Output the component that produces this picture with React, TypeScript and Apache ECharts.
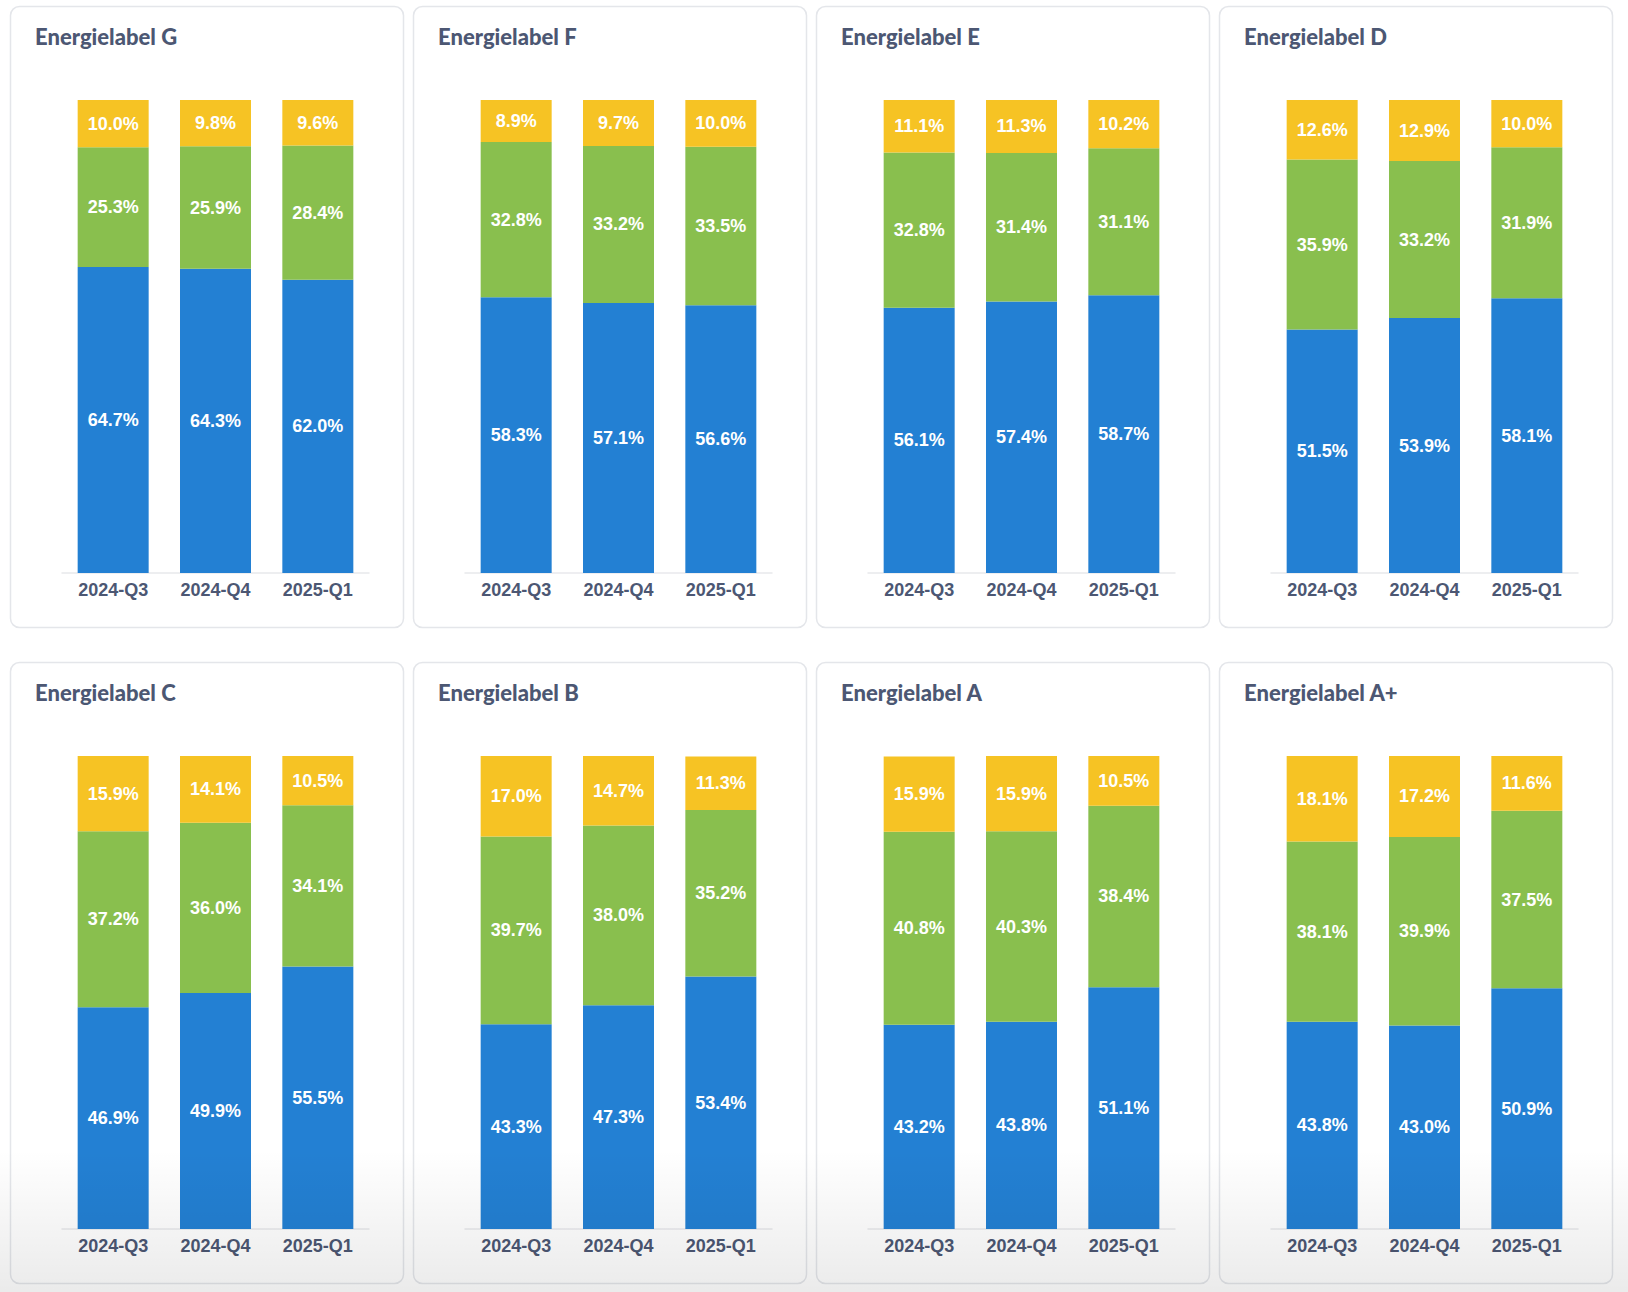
import React, { useEffect, useRef } from "react";
import * as echarts from "echarts";

const categories = ["2024-Q3", "2024-Q4", "2025-Q1"];
const labels = [
  "Energielabel G",
  "Energielabel F",
  "Energielabel E",
  "Energielabel D",
  "Energielabel C",
  "Energielabel B",
  "Energielabel A",
  "Energielabel A+",
];
const blueValues = [
  [64.7, 64.3, 62.0],
  [58.3, 57.1, 56.6],
  [56.1, 57.4, 58.7],
  [51.5, 53.9, 58.1],
  [46.9, 49.9, 55.5],
  [43.3, 47.3, 53.4],
  [43.2, 43.8, 51.1],
  [43.8, 43.0, 50.9],
];
const greenValues = [
  [25.3, 25.9, 28.4],
  [32.8, 33.2, 33.5],
  [32.8, 31.4, 31.1],
  [35.9, 33.2, 31.9],
  [37.2, 36.0, 34.1],
  [39.7, 38.0, 35.2],
  [40.8, 40.3, 38.4],
  [38.1, 39.9, 37.5],
];
const yellowValues = [
  [10.0, 9.8, 9.6],
  [8.9, 9.7, 10.0],
  [11.1, 11.3, 10.2],
  [12.6, 12.9, 10.0],
  [15.9, 14.1, 10.5],
  [17.0, 14.7, 11.3],
  [15.9, 15.9, 10.5],
  [18.1, 17.2, 11.6],
];
const seriesNames = ["Blauw", "Groen", "Geel"];

const COLORS = ["#2380D3", "#89BF4E", "#F6C324"];
const W = 1628;
const H = 1292;

export default function App() {
  const ref = useRef<HTMLDivElement>(null);
  useEffect(() => {
    document.body.style.margin = "0";
    const chart = echarts.init(ref.current!, null, { renderer: "svg" });
    const grids: any[] = [];
    const xAxes: any[] = [];
    const yAxes: any[] = [];
    const series: any[] = [];
    const titles: any[] = [];
    const graphics: any[] = [];
    labels.forEach((name, i) => {
      const c = i % 4;
      const r = Math.floor(i / 4);
      const cx = 10 + c * 403;
      const cy = r === 0 ? 6 : 662;
      graphics.push({
        type: "rect",
        shape: { x: cx + 0.5, y: cy + 0.5, width: 393, height: 621, r: 9 },
        style: { fill: "#ffffff", stroke: "#e4e6ea", lineWidth: 1.5 },
        z: -10,
        silent: true,
      });
      titles.push({
        text: name,
        left: cx + 20,
        top: cy + 14,
        textStyle: {
          fontFamily: "Lato",
          fontWeight: 900,
          fontSize: 22,
          color: "#4C5773",
        },
      });
      grids.push({ left: cx + 52, top: cy + 94, width: 307, height: 473 });
      xAxes.push({
        type: "category",
        gridIndex: i,
        data: categories,
        axisTick: { show: false },
        axisLine: { lineStyle: { color: "#e8e9ec", width: 1.5 } },
        axisLabel: {
          margin: 8,
          fontFamily: "Liberation Sans",
          fontWeight: "bold",
          fontSize: 18,
          color: "#4C5773",
        },
      });
      yAxes.push({
        type: "value",
        gridIndex: i,
        min: 0,
        max: 100,
        show: false,
        splitLine: { show: false },
      });
      [blueValues, greenValues, yellowValues].forEach((vals, s) => {
        series.push({
          type: "bar",
          name: seriesNames[s],
          xAxisIndex: i,
          yAxisIndex: i,
          stack: "total" + i,
          barWidth: 71,
          data: vals[i],
          itemStyle: { color: COLORS[s] },
          label: {
            show: true,
            position: "inside",
            formatter: (p: any) => p.value.toFixed(1) + "%",
            color: "#ffffff",
            fontFamily: "Liberation Sans",
            fontWeight: "bold",
            fontSize: 18,
          },
        });
      });
    });
    graphics.push({
      type: "rect",
      shape: { x: 0, y: 1150, width: W, height: H - 1150 },
      style: {
        fill: new echarts.graphic.LinearGradient(0, 0, 0, 1, [
          { offset: 0, color: "rgba(0,0,0,0)" },
          { offset: 1, color: "rgba(0,0,0,0.08)" },
        ]),
      },
      z: 100,
      silent: true,
    });
    chart.setOption({
      animation: false,
      backgroundColor: "#ffffff",
      title: titles,
      grid: grids,
      xAxis: xAxes,
      yAxis: yAxes,
      series,
      graphic: graphics,
    });
    return () => chart.dispose();
  }, []);
  return (
    <div
      ref={ref}
      style={{ position: "absolute", left: 0, top: 0, width: W, height: H }}
    />
  );
}
